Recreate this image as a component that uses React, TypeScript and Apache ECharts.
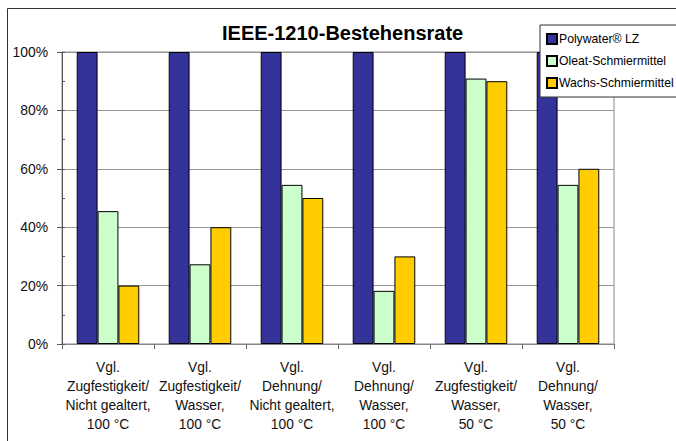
import React, { useEffect, useRef } from "react";
import * as echarts from "echarts";

const categories = [
  "Vgl.\nZugfestigkeit/\nNicht gealtert,\n100 °C",
  "Vgl.\nZugfestigkeit/\nWasser,\n100 °C",
  "Vgl.\nDehnung/\nNicht gealtert,\n100 °C",
  "Vgl.\nDehnung/\nWasser,\n100 °C",
  "Vgl.\nZugfestigkeit/\nWasser,\n50 °C",
  "Vgl.\nDehnung/\nWasser,\n50 °C",
];
const polywater = [100, 100, 100, 100, 100, 100];
const oleat = [45.5, 27.3, 54.5, 18.2, 90.9, 54.5];
const wachs = [20, 40, 50, 30, 90, 60];
const seriesNames = ["Polywater® LZ", "Oleat-Schmiermittel", "Wachs-Schmiermittel"];
const colors = ["#333399", "#CCFFCC", "#FFCC00"];

const FONT = "Liberation Sans, Arial, sans-serif";

export default function App() {
  const ref = useRef<HTMLDivElement>(null);
  useEffect(() => {
    if (!ref.current) return;
    const chart = echarts.init(ref.current, undefined, { renderer: "svg" });
    const data = [polywater, oleat, wachs];
    chart.setOption({
      animation: false,
      backgroundColor: "#ffffff",
      textStyle: { fontFamily: FONT },
      title: {
        text: "IEEE-1210-Bestehensrate",
        left: 222,
        top: 23,
        padding: 0,
        textStyle: { fontFamily: FONT, fontSize: 20, fontWeight: "bold", color: "#000" },
      },
      graphic: [
        {
          type: "rect",
          shape: { x: 7.5, y: 8.5, width: 720, height: 500 },
          style: { fill: "none", stroke: "#333", lineWidth: 1 },
          z: -1,
        },
      ],
      legend: {
        orient: "vertical",
        left: 540,
        top: 25,
        padding: [8, 20, 8, 6],
        itemGap: 10,
        itemWidth: 10,
        itemHeight: 10,
        icon: "rect",
        backgroundColor: "#fff",
        borderColor: "#333",
        borderWidth: 1,
        textStyle: { fontFamily: FONT, fontSize: 12.2, color: "#000", padding: [0, 0, 0, -3] },
        data: seriesNames,
        z: 10,
      },
      grid: {
        left: 62,
        top: 52,
        right: 62,
        bottom: 97,
        show: true,
        borderColor: "#888",
        borderWidth: 1,
        containLabel: false,
        outerBoundsMode: "none",
      },
      xAxis: {
        type: "category",
        data: categories,
        axisLine: { show: true, lineStyle: { color: "#888" } },
        axisTick: { show: true, length: 5, lineStyle: { color: "#666" } },
        axisLabel: {
          interval: 0,
          fontFamily: FONT,
          fontSize: 13.8,
          lineHeight: 19,
          color: "#111",
          margin: 14,
        },
      },
      yAxis: [
        {
          type: "value",
          min: 0,
          max: 100,
          interval: 20,
          axisLine: { show: true, lineStyle: { color: "#555" } },
          axisTick: { show: true, length: 5, lineStyle: { color: "#555" } },
          axisLabel: {
            formatter: "{value}%",
            fontFamily: FONT,
            fontSize: 13.9,
            color: "#111",
            margin: 14,
          },
          splitLine: { show: true, lineStyle: { color: "#999" } },
        },
        {
          type: "value",
          min: 0,
          max: 100,
          interval: 10,
          position: "left",
          axisLine: { show: false },
          axisTick: { show: true, inside: true, length: 3, lineStyle: { color: "#555" } },
          axisLabel: { show: false },
          splitLine: { show: false },
        },
      ],
      series: seriesNames.map((name, i) => ({
        name,
        type: "bar",
        data: data[i],
        barGap: "0%",
        barCategoryGap: "32%",
        itemStyle: { color: colors[i], borderColor: "#000", borderWidth: 1 },
      })),
    });
    return () => chart.dispose();
  }, []);
  return (
    <div
      ref={ref}
      style={{ position: "fixed", left: 0, top: 0, width: 676, height: 441 }}
    />
  );
}
